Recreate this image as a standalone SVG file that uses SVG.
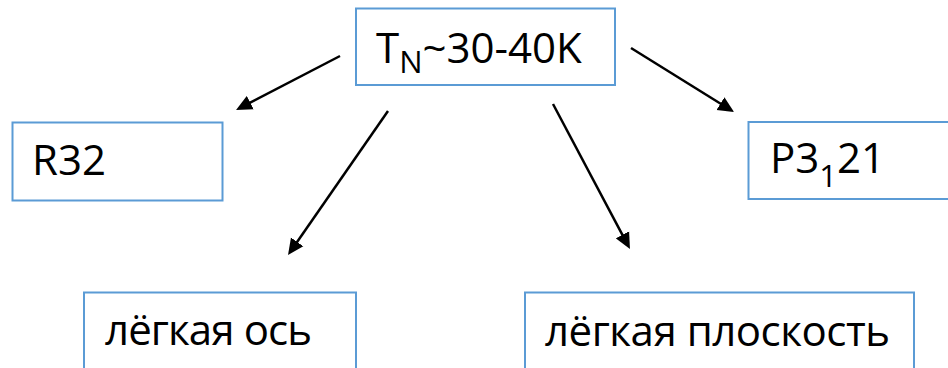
<svg xmlns="http://www.w3.org/2000/svg" width="948" height="368" viewBox="0 0 948 368">
  <style>
    .box { fill: #ffffff; stroke: #5b9bd5; stroke-width: 2; }
    .lbl { font-family: "Open Sans", "Liberation Sans", sans-serif; font-size: 42px; fill: #000000; }
    .sub { font-size: 31px; }
    .arrow { stroke: #000000; stroke-width: 2.5; fill: none; marker-end: url(#head); }
  </style>
  <defs>
    <!-- filled triangular arrowhead; tip sits 11px beyond the line end -->
    <marker id="head" viewBox="0 0 16 16" refX="5" refY="8" markerWidth="16" markerHeight="16" markerUnits="userSpaceOnUse" orient="auto">
      <path d="M0,0.5 L16,8 L0,15.5 Z" fill="#000000"/>
    </marker>
  </defs>
  <rect width="948" height="368" fill="#ffffff"/>

  <g id="connectors">
    <line class="arrow" x1="340" y1="56" x2="245.8" y2="104.9"/>
    <line class="arrow" x1="388" y1="111" x2="294.3" y2="246.0"/>
    <line class="arrow" x1="553" y1="104" x2="624.8" y2="239.3"/>
    <line class="arrow" x1="631" y1="48" x2="724.7" y2="106.2"/>
  </g>

  <g id="node-tn">
    <rect class="box" x="356" y="8.5" width="259" height="76.5"/>
    <text class="lbl" x="376" y="63">T<tspan class="sub" dy="10">N</tspan><tspan dy="-10">~30-40K</tspan></text>
  </g>

  <g id="node-r32">
    <rect class="box" x="12.5" y="122.5" width="210" height="78"/>
    <text class="lbl" x="32" y="175">R32</text>
  </g>

  <g id="node-p3121">
    <rect class="box" x="748.5" y="122" width="210" height="77"/>
    <text class="lbl" x="770" y="173">P3<tspan class="sub" dy="14">1</tspan><tspan dy="-14">21</tspan></text>
  </g>

  <g id="node-easy-axis">
    <rect class="box" x="84" y="292.5" width="272" height="90"/>
    <text class="lbl" x="105" y="345" textLength="207">лёгкая ось</text>
  </g>

  <g id="node-easy-plane">
    <rect class="box" x="525" y="292.5" width="389" height="90"/>
    <text class="lbl" x="545" y="346" textLength="345">лёгкая плоскость</text>
  </g>
</svg>
